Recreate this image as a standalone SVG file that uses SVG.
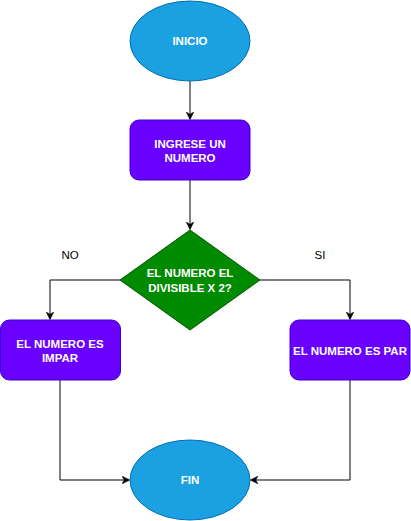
<svg xmlns="http://www.w3.org/2000/svg" width="411" height="521" viewBox="0 0 411 521">
<style>
.term{fill:#1ba1e2;stroke:#006eaf;stroke-width:1}
.proc{fill:#6a00ff;stroke:#3700cc;stroke-width:1}
.dec{fill:#008a00;stroke:#005700;stroke-width:1}
.lbl{font-family:"Liberation Sans",Arial,sans-serif;font-size:11.5px;font-weight:bold;fill:#ffffff;text-anchor:middle}
.edge{fill:none;stroke:#000000;stroke-width:1}
.elbl{font-family:"Liberation Sans",Arial,sans-serif;font-size:11.5px;fill:#000000;text-anchor:middle}
</style>
<defs>
<marker id="arr" viewBox="0 0 10 10" refX="9" refY="5" markerWidth="8" markerHeight="8" markerUnits="userSpaceOnUse" orient="auto">
<path d="M0,0 L10,5 L0,10 L3,5 Z" fill="#000000" stroke="#000000" stroke-width="0.5"/>
</marker>
</defs>
<rect width="411" height="521" fill="#ffffff"/>
<g id="connectors">
<path class="edge" d="M190,81 L190,119" marker-end="url(#arr)"/>
<path class="edge" d="M190,180 L190,229" marker-end="url(#arr)"/>
<path class="edge" d="M120,280 L50,280 L50,319" marker-end="url(#arr)"/>
<path class="edge" d="M260,280 L350,280 L350,319" marker-end="url(#arr)"/>
<path class="edge" d="M60,380 L60,480 L129,480" marker-end="url(#arr)"/>
<path class="edge" d="M350,380 L350,480 L251,480" marker-end="url(#arr)"/>
<text class="elbl" x="70" y="259">NO</text>
<text class="elbl" x="320" y="259">SI</text>
</g>
<g id="inicio">
<ellipse class="term" cx="190" cy="41" rx="60" ry="40"/>
<text class="lbl" x="190" y="45">INICIO</text>
</g>
<g id="ingrese">
<rect class="proc" x="130" y="120" width="120" height="60" rx="9" ry="9"/>
<text class="lbl" x="190" y="148">INGRESE UN</text>
<text class="lbl" x="190" y="162">NUMERO</text>
</g>
<g id="decision">
<polygon class="dec" points="190,230 260,280 190,330 120,280"/>
<text class="lbl" x="190" y="277">EL NUMERO EL</text>
<text class="lbl" x="190" y="292">DIVISIBLE X 2?</text>
</g>
<g id="impar">
<rect class="proc" x="0.5" y="320" width="120" height="60" rx="9" ry="9"/>
<text class="lbl" x="60" y="348">EL NUMERO ES</text>
<text class="lbl" x="60" y="362">IMPAR</text>
</g>
<g id="par">
<rect class="proc" x="290" y="320" width="120" height="60" rx="9" ry="9"/>
<text class="lbl" x="350" y="355">EL NUMERO ES PAR</text>
</g>
<g id="fin">
<ellipse class="term" cx="190" cy="480" rx="60" ry="40"/>
<text class="lbl" x="190" y="484">FIN</text>
</g>
</svg>
